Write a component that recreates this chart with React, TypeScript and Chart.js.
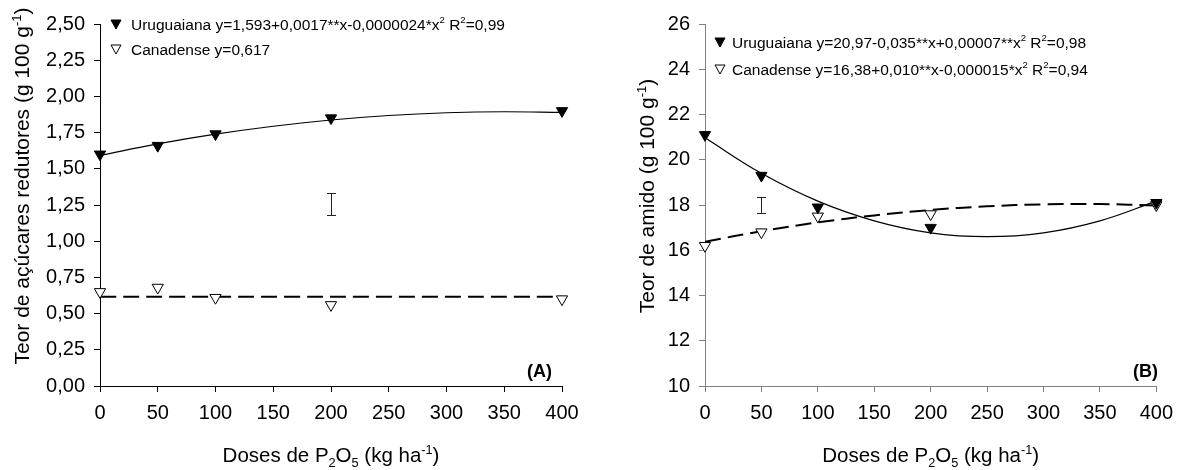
import React, { useEffect, useRef } from 'react';
import { Chart, registerables } from 'chart.js';

Chart.register(...registerables);

// ---------- data ----------
const doses = [0, 50, 100, 200, 400];
const fitDoses = [0, 50, 100, 150, 200, 250, 300, 350, 400];
const tickStepX = 50;

// Panel A: reducing sugars (g 100 g-1)
const sugarUruguaiana = [1.6, 1.66, 1.74, 1.85, 1.9];
const sugarCanadense = [0.65, 0.68, 0.61, 0.56, 0.6];
const sugarFitUruguaiana = [1.593, 1.672, 1.739, 1.794, 1.837, 1.868, 1.887, 1.894, 1.889];
const sugarFitCanadenseX = [0, 400];
const sugarFitCanadense = [0.617, 0.617];
const sugarErrX = [200];
const sugarErrLow = [1.18];
const sugarErrHigh = [1.33];

// Panel B: starch (g 100 g-1)
const starchUruguaiana = [21.1, 19.3, 17.9, 17.0, 18.1];
const starchCanadense = [16.2, 16.8, 17.5, 17.6, 18.0];
const starchFitUruguaiana = [20.97, 19.4, 18.17, 17.3, 16.77, 16.6, 16.77, 17.3, 18.17];
const starchFitCanadense = [16.38, 16.84, 17.23, 17.54, 17.78, 17.94, 18.03, 18.04, 17.98];
const starchErrX = [50];
const starchErrLow = [17.65];
const starchErrHigh = [18.35];

const FONT = '"Liberation Sans", Arial, Helvetica, sans-serif';

type Seg = { t: string; k?: 'sup' | 'sub' };

function segFont(seg: Seg, size: number, weight: string) {
  const fs = seg.k ? size * 0.62 : size;
  return `${weight} ${fs}px ${FONT}`;
}

function drawRich(
  ctx: CanvasRenderingContext2D,
  segs: Seg[],
  x: number,
  y: number,
  size: number,
  align: 'left' | 'center' | 'right',
  weight = 'normal'
) {
  ctx.textBaseline = 'alphabetic';
  ctx.textAlign = 'left';
  let total = 0;
  const widths = segs.map((s) => {
    ctx.font = segFont(s, size, weight);
    const w = ctx.measureText(s.t).width;
    total += w;
    return w;
  });
  let cx = align === 'center' ? x - total / 2 : align === 'right' ? x - total : x;
  segs.forEach((s, i) => {
    ctx.font = segFont(s, size, weight);
    const dy = s.k === 'sup' ? -size * 0.4 : s.k === 'sub' ? size * 0.22 : 0;
    ctx.fillText(s.t, cx, y + dy);
    cx += widths[i];
  });
}

function drawLegendMarker(ctx: CanvasRenderingContext2D, mx: number, my: number, filled: boolean) {
  ctx.beginPath();
  ctx.moveTo(mx - 5, my - 4);
  ctx.lineTo(mx + 5, my - 4);
  ctx.lineTo(mx, my + 5);
  ctx.closePath();
  ctx.fillStyle = filled ? '#000' : '#fff';
  ctx.fill();
  ctx.lineWidth = 1;
  ctx.strokeStyle = '#000';
  ctx.stroke();
}

const annotPlugin = {
  id: 'annot',
  afterDraw(chart: any, _args: any, o: any) {
    const ctx: CanvasRenderingContext2D = chart.ctx;
    const xs = chart.scales.x;
    const ys = chart.scales.y;
    const area = chart.chartArea;
    ctx.save();
    // error bar
    ctx.strokeStyle = '#222';
    ctx.lineWidth = 1;
    o.errX.forEach((xv: number, i: number) => {
      const px = Math.round(xs.getPixelForValue(xv)) + 0.5;
      const p1 = ys.getPixelForValue(o.errLow[i]);
      const p2 = ys.getPixelForValue(o.errHigh[i]);
      ctx.beginPath();
      ctx.moveTo(px, p1);
      ctx.lineTo(px, p2);
      ctx.moveTo(px - 4.5, Math.round(p1) + 0.5);
      ctx.lineTo(px + 4.5, Math.round(p1) + 0.5);
      ctx.moveTo(px - 4.5, Math.round(p2) + 0.5);
      ctx.lineTo(px + 4.5, Math.round(p2) + 0.5);
      ctx.stroke();
    });
    // legend
    o.legend.forEach((item: any, i: number) => {
      const cy = o.legendY[i];
      drawLegendMarker(ctx, o.legendMarkerX, cy, item.filled);
      ctx.fillStyle = '#000';
      drawRich(ctx, item.segs, o.legendTextX, cy + 5.5, 15.5, 'left');
    });
    ctx.fillStyle = '#000';
    // x title
    drawRich(ctx, o.xTitle, (area.left + area.right) / 2, o.xTitleY, 20.5, 'center');
    // y title
    ctx.save();
    ctx.translate(o.yTitleX, o.yTitleY);
    ctx.rotate(-Math.PI / 2);
    drawRich(ctx, o.yTitle, 0, 7, 21, 'center');
    ctx.restore();
    // panel label
    drawRich(ctx, [{ t: o.panel }], o.panelX, o.panelY, 18, 'right', 'bold');
    ctx.restore();
  },
};

type Panel = {
  u: number[];
  c: number[];
  fitU: number[];
  fitCX: number[];
  fitC: number[];
  yMin: number;
  yMax: number;
  yStep: number;
  yFmt: (v: number) => string;
  yAxisWidth: number;
  padRight: number;
  axisColor: string;
  annot: any;
};

function makeConfig(p: Panel): any {
  const tickFont = { family: FONT, size: 20 };
  return {
    type: 'line',
    data: {
      datasets: [
        {
          label: 'Uruguaiana',
          data: doses.map((x, i) => ({ x, y: p.u[i] })),
          showLine: false,
          pointStyle: 'triangle',
          rotation: 180,
          pointRadius: 6.5,
          pointBackgroundColor: '#000',
          pointBorderColor: '#000',
          pointBorderWidth: 1,
          clip: false,
        },
        {
          label: 'Canadense',
          data: doses.map((x, i) => ({ x, y: p.c[i] })),
          showLine: false,
          pointStyle: 'triangle',
          rotation: 180,
          pointRadius: 6.5,
          pointBackgroundColor: '#fff',
          pointBorderColor: '#000',
          pointBorderWidth: 1,
          clip: false,
        },
        {
          label: 'Uruguaiana fit',
          data: fitDoses.map((x, i) => ({ x, y: p.fitU[i] })),
          borderColor: '#000',
          borderWidth: 1.2,
          pointRadius: 0,
          tension: 0.4,
          fill: false,
        },
        {
          label: 'Canadense fit',
          data: p.fitCX.map((x, i) => ({ x, y: p.fitC[i] })),
          borderColor: '#000',
          borderWidth: 2,
          borderDash: [16, 7],
          pointRadius: 0,
          tension: 0.4,
          fill: false,
        },
      ],
    },
    options: {
      responsive: false,
      animation: false,
      events: [],
      layout: { padding: { top: 24, right: p.padRight, left: 0, bottom: 0 } },
      plugins: {
        legend: { display: false },
        tooltip: { enabled: false },
        annot: p.annot,
      },
      scales: {
        x: {
          type: 'linear',
          min: 0,
          max: 400,
          ticks: { stepSize: tickStepX, color: '#000', font: tickFont, padding: 9, maxRotation: 0, autoSkip: false },
          grid: { drawOnChartArea: false, drawTicks: true, tickLength: 6, color: p.axisColor, lineWidth: 1 },
          border: { color: p.axisColor, width: 1 },
          afterFit: (s: any) => {
            s.height = 84;
          },
        },
        y: {
          type: 'linear',
          min: p.yMin,
          max: p.yMax,
          ticks: {
            stepSize: p.yStep,
            color: '#000',
            font: tickFont,
            padding: 9,
            autoSkip: false,
            callback: (v: any) => p.yFmt(Number(v)),
          },
          grid: { drawOnChartArea: false, drawTicks: true, tickLength: 6, color: p.axisColor, lineWidth: 1 },
          border: { color: p.axisColor, width: 1 },
          afterFit: (s: any) => {
            s.width = p.yAxisWidth;
          },
        },
      },
    },
    plugins: [annotPlugin],
  };
}

const xTitle: Seg[] = [
  { t: 'Doses de P' },
  { t: '2', k: 'sub' },
  { t: 'O' },
  { t: '5', k: 'sub' },
  { t: ' (kg ha' },
  { t: '-1', k: 'sup' },
  { t: ')' },
];

const panelA: Panel = {
  u: sugarUruguaiana,
  c: sugarCanadense,
  fitU: sugarFitUruguaiana,
  fitCX: sugarFitCanadenseX,
  fitC: sugarFitCanadense,
  yMin: 0,
  yMax: 2.5,
  yStep: 0.25,
  yFmt: (v) => v.toFixed(2).replace('.', ','),
  yAxisWidth: 100,
  padRight: 28,
  axisColor: '#000',
  annot: {
    errX: sugarErrX,
    errLow: sugarErrLow,
    errHigh: sugarErrHigh,
    legend: [
      {
        filled: true,
        segs: [
          { t: 'Uruguaiana y=1,593+0,0017**x-0,0000024*x' },
          { t: '2', k: 'sup' },
          { t: ' R' },
          { t: '2', k: 'sup' },
          { t: '=0,99' },
        ],
      },
      { filled: false, segs: [{ t: 'Canadense y=0,617' }] },
    ],
    legendMarkerX: 116,
    legendTextX: 131,
    legendY: [24, 49],
    xTitle,
    xTitleY: 462,
    yTitle: [{ t: 'Teor de açúcares redutores (g 100 g' }, { t: '-1', k: 'sup' }, { t: ')' }],
    yTitleX: 22,
    yTitleY: 186,
    panel: '(A)',
    panelX: 552,
    panelY: 377,
  },
};

const panelB: Panel = {
  u: starchUruguaiana,
  c: starchCanadense,
  fitU: starchFitUruguaiana,
  fitCX: fitDoses,
  fitC: starchFitCanadense,
  yMin: 10,
  yMax: 26,
  yStep: 2,
  yFmt: (v) => String(v),
  yAxisWidth: 115,
  padRight: 17,
  axisColor: '#808080',
  annot: {
    errX: starchErrX,
    errLow: starchErrLow,
    errHigh: starchErrHigh,
    legend: [
      {
        filled: true,
        segs: [
          { t: 'Uruguaiana y=20,97-0,035**x+0,00007**x' },
          { t: '2', k: 'sup' },
          { t: ' R' },
          { t: '2', k: 'sup' },
          { t: '=0,98' },
        ],
      },
      {
        filled: false,
        segs: [
          { t: 'Canadense y=16,38+0,010**x-0,000015*x' },
          { t: '2', k: 'sup' },
          { t: ' R' },
          { t: '2', k: 'sup' },
          { t: '=0,94' },
        ],
      },
    ],
    legendMarkerX: 130,
    legendTextX: 142,
    legendY: [42, 69],
    xTitle,
    xTitleY: 462,
    yTitle: [{ t: 'Teor de amido (g 100 g' }, { t: '-1', k: 'sup' }, { t: ')' }],
    yTitleX: 57,
    yTitleY: 196,
    panel: '(B)',
    panelX: 568,
    panelY: 377,
  },
};

export default function App() {
  const refA = useRef<HTMLCanvasElement>(null);
  const refB = useRef<HTMLCanvasElement>(null);
  useEffect(() => {
    const a = new Chart(refA.current as HTMLCanvasElement, makeConfig(panelA));
    const b = new Chart(refB.current as HTMLCanvasElement, makeConfig(panelB));
    return () => {
      a.destroy();
      b.destroy();
    };
  }, []);
  return (
    <div style={{ position: 'absolute', left: 0, top: 0, width: 1182, height: 470, background: '#fff' }}>
      <canvas
        ref={refA}
        width={590}
        height={470}
        style={{ position: 'absolute', left: 0, top: 0, width: 590, height: 470 }}
      />
      <canvas
        ref={refB}
        width={592}
        height={470}
        style={{ position: 'absolute', left: 590, top: 0, width: 592, height: 470 }}
      />
    </div>
  );
}
